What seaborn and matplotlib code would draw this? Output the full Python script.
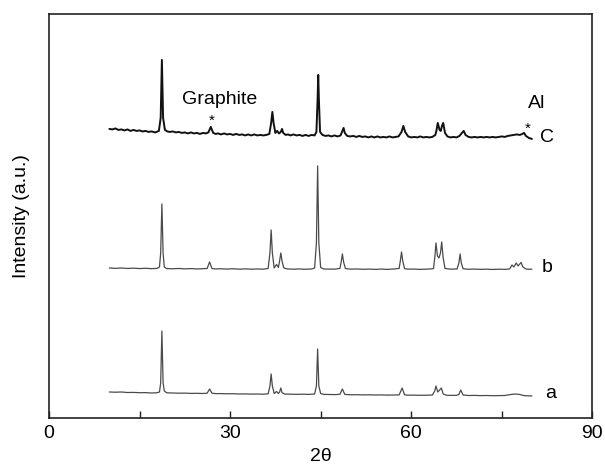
import matplotlib
matplotlib.use("Agg")
import matplotlib.pyplot as plt
import pandas as pd
import seaborn as sns

# ---- XRD patterns (2theta in degrees, intensity in arbitrary units) ----
two_theta_a = [10.0, 11.0, 12.0, 13.0, 14.0, 15.0, 16.0, 17.0, 17.8, 18.3, 18.5, 18.7, 18.9, 19.1,
               19.5, 20.5, 21.5, 22.5, 23.5, 24.5, 25.5, 26.2, 26.6, 27.0, 27.6, 28.5, 29.5, 30.5,
               31.5, 32.5, 33.5, 34.5, 35.5, 36.3, 36.6, 36.8, 37.0, 37.3, 37.7, 38.0, 38.2, 38.4,
               38.6, 39.0, 40.0, 41.0, 42.0, 43.0, 44.0, 44.3, 44.5, 44.7, 45.0, 45.5, 46.5, 47.5,
               48.2, 48.6, 49.0, 50.0, 51.0, 52.0, 53.0, 54.0, 55.0, 56.0, 57.0, 58.0, 58.5, 58.9,
               59.5, 60.5, 61.5, 62.5, 63.5, 63.9, 64.1, 64.4, 64.7, 65.0, 65.3, 65.8, 66.5, 67.5,
               67.9, 68.2, 68.6, 69.5, 70.5, 71.5, 72.5, 73.5, 74.5, 75.5, 76.5, 77.3, 78.0, 78.7,
               79.5, 80.0]
intensity_a = [26.0, 25.8, 26.0, 25.5, 25.6, 25.3, 25.4, 25.0, 25.2, 26.0, 35.0, 87.0, 35.0, 27.0,
               25.2, 25.0, 24.8, 24.9, 24.6, 24.7, 24.5, 24.8, 29.0, 24.8, 24.4, 24.4, 24.2, 24.3,
               24.0, 24.1, 23.9, 24.0, 23.8, 24.2, 32.0, 44.0, 32.0, 24.5, 26.5, 24.5, 26.0, 30.0,
               25.5, 24.0, 23.8, 23.7, 23.8, 23.6, 24.0, 32.0, 69.0, 32.0, 24.5, 23.6, 23.5, 23.4,
               23.8, 29.0, 23.6, 23.2, 23.3, 23.1, 23.2, 23.0, 23.1, 22.9, 23.0, 23.1, 30.0, 23.2,
               22.8, 22.9, 22.7, 22.8, 23.0, 27.0, 32.0, 26.0, 28.0, 30.0, 24.0, 22.8, 22.6, 22.7,
               23.5, 28.0, 23.0, 22.5, 22.6, 22.4, 22.5, 22.3, 22.4, 22.5, 23.5, 24.0, 23.5, 22.4,
               22.1, 22.0]

two_theta_b = [10.0, 11.0, 12.0, 13.0, 14.0, 15.0, 16.0, 17.0, 17.9, 18.3, 18.5, 18.7, 18.9, 19.1,
               19.5, 20.5, 21.5, 22.5, 23.5, 24.5, 25.5, 26.2, 26.6, 27.0, 27.6, 28.5, 29.5, 30.5,
               31.5, 32.5, 33.5, 34.5, 35.5, 36.3, 36.6, 36.8, 37.0, 37.3, 37.7, 38.0, 38.2, 38.4,
               38.6, 38.9, 39.5, 40.5, 41.5, 42.5, 43.5, 44.0, 44.3, 44.5, 44.7, 45.0, 45.5, 46.5,
               47.5, 48.2, 48.4, 48.6, 48.8, 49.1, 50.0, 51.0, 52.0, 53.0, 54.0, 55.0, 56.0, 57.0,
               58.0, 58.2, 58.4, 58.6, 58.9, 59.5, 60.5, 61.5, 62.5, 63.5, 63.7, 63.95, 64.1, 64.35,
               64.6, 64.85, 65.05, 65.3, 65.6, 66.5, 67.6, 67.9, 68.1, 68.3, 68.6, 69.5, 70.5, 71.5,
               72.5, 73.5, 74.5, 75.5, 76.3, 76.7, 77.0, 77.4, 77.7, 78.2, 78.5, 79.0, 79.5, 80.0]
intensity_b = [25.0, 24.6, 25.0, 24.5, 24.8, 24.4, 24.7, 24.3, 24.6, 26.0, 40.0, 89.0, 40.0, 26.0,
               24.4, 24.2, 24.5, 24.1, 24.4, 24.0, 24.3, 24.5, 31.0, 24.4, 24.0, 24.2, 23.9, 24.2,
               23.8, 24.1, 23.8, 24.0, 23.8, 24.5, 40.0, 63.0, 40.0, 25.0, 28.5, 25.5, 32.0, 40.0,
               32.0, 25.0, 24.0, 23.8, 24.0, 23.7, 24.0, 25.0, 50.0, 127.0, 50.0, 25.5, 24.0, 23.8,
               23.9, 24.6, 31.0, 39.0, 31.0, 24.4, 23.8, 24.0, 23.7, 23.9, 23.6, 23.9, 23.6, 23.9,
               24.5, 32.0, 41.0, 32.0, 24.3, 23.8, 23.9, 23.6, 23.8, 24.2, 24.5, 38.0, 50.0, 37.0,
               35.0, 40.0, 51.0, 35.0, 24.5, 23.8, 24.0, 30.0, 39.0, 30.0, 24.2, 23.7, 23.9, 23.6,
               23.8, 23.5, 23.8, 23.6, 24.0, 28.0, 26.0, 30.0, 27.0, 30.5, 26.0, 24.0, 23.7, 23.8]

two_theta_c = [10.0, 10.5, 11.0, 11.5, 12.0, 12.5, 13.0, 13.5, 14.0, 14.5, 15.0, 15.5, 16.0, 16.5,
               17.0, 17.6, 18.2, 18.5, 18.7, 18.9, 19.2, 19.6, 20.0, 20.5, 21.0, 21.5, 22.0, 22.5,
               23.0, 23.5, 24.0, 24.5, 25.0, 25.5, 26.0, 26.4, 26.8, 27.2, 27.6, 28.0, 28.5, 29.0,
               29.5, 30.0, 30.5, 31.0, 31.5, 32.0, 32.5, 33.0, 33.5, 34.0, 34.5, 35.0, 35.5, 36.0,
               36.5, 36.8, 37.0, 37.2, 37.5, 37.8, 38.1, 38.4, 38.6, 38.8, 39.2, 39.6, 40.0, 40.5,
               41.0, 41.5, 42.0, 42.5, 43.0, 43.5, 44.0, 44.3, 44.5, 44.6, 44.7, 44.9, 45.3, 45.8,
               46.3, 46.8, 47.3, 47.8, 48.3, 48.6, 48.8, 49.0, 49.4, 49.9, 50.4, 50.9, 51.4, 51.9,
               52.4, 52.9, 53.4, 53.9, 54.4, 54.9, 55.4, 55.9, 56.4, 56.9, 57.4, 57.9, 58.4, 58.7,
               59.0, 59.5, 60.0, 60.5, 61.0, 61.5, 62.0, 62.5, 63.0, 63.5, 64.0, 64.2, 64.4, 64.7,
               64.9, 65.1, 65.3, 65.6, 66.0, 66.5, 67.0, 67.5, 68.0, 68.4, 68.7, 69.0, 69.5, 70.0,
               70.5, 71.0, 71.5, 72.0, 72.5, 73.0, 73.5, 74.0, 74.5, 75.0, 75.5, 76.0, 76.5, 77.0,
               77.5, 78.0, 78.4, 78.7, 79.0, 79.5, 80.0]
intensity_c = [34.0, 33.5, 34.5, 33.0, 33.5, 32.5, 33.5, 32.0, 33.0, 32.0, 32.5, 31.5, 32.0, 31.0,
               31.5, 30.5, 32.0, 45.0, 103.0, 45.0, 33.0, 31.5, 31.0, 31.5, 30.5, 31.0, 30.0, 30.5,
               29.5, 30.5, 29.5, 30.0, 29.0, 30.0, 29.5, 30.5, 36.0, 30.0, 29.0, 29.5, 28.5, 29.5,
               28.5, 29.0, 28.0, 29.0, 28.0, 28.5, 27.5, 28.5, 27.5, 28.5, 27.5, 28.0, 27.5, 28.0,
               29.0, 40.0, 51.0, 40.0, 30.0, 32.0, 29.5, 31.0, 34.0, 30.0, 28.0, 28.5, 27.5, 28.5,
               27.5, 28.0, 27.0, 28.0, 27.0, 28.0, 27.5, 31.0, 65.0, 88.0, 65.0, 31.0, 28.0, 27.0,
               27.5, 26.5, 27.5, 26.5, 27.5, 32.0, 35.0, 30.0, 27.0, 26.5, 27.0, 26.0, 27.0, 26.0,
               26.5, 25.5, 26.5, 25.5, 26.5, 25.5, 26.0, 25.5, 26.5, 25.5, 26.0, 26.5, 31.0, 37.0,
               31.0, 26.5, 25.5, 26.0, 25.5, 26.5, 25.5, 26.0, 25.5, 26.0, 28.0, 33.0, 40.0, 33.0,
               32.0, 37.0, 40.0, 30.0, 26.5, 25.5, 26.0, 25.5, 27.0, 30.0, 32.0, 28.0, 26.0, 25.5,
               26.0, 25.5, 26.0, 25.5, 26.0, 25.5, 26.0, 25.5, 26.0, 26.5, 26.0, 27.0, 27.5, 28.0,
               28.5, 28.0, 29.0, 30.0, 27.0, 25.0, 24.0]

sample_names = ["a", "b", "C"]
stack_offsets = [0, 125, 255]

frames = []
for name, tt, inten, off in zip(sample_names,
                                [two_theta_a, two_theta_b, two_theta_c],
                                [intensity_a, intensity_b, intensity_c],
                                stack_offsets):
    frames.append(pd.DataFrame({"two_theta": tt,
                                "intensity": [v + off for v in inten],
                                "sample": name}))
data = pd.concat(frames, ignore_index=True)

sns.set_theme(style="ticks")
plt.rcParams["font.family"] = ["Liberation Sans", "DejaVu Sans"]
plt.rcParams["text.color"] = "black"
plt.rcParams["axes.labelcolor"] = "black"

fig = plt.figure(figsize=(6.05, 4.71), dpi=100)
ax = fig.add_axes([0.081, 0.1125, 0.898, 0.858])

line_styles = {"a": ("#4a4a4a", 0.9), "b": ("#4a4a4a", 0.9), "C": ("#111111", 1.4)}
for name in sample_names:
    color, lw = line_styles[name]
    sns.lineplot(data=data[data["sample"] == name], x="two_theta", y="intensity",
                 color=color, linewidth=lw, estimator=None, ax=ax, legend=False)

ax.set_xlim(0, 90)
ax.set_ylim(0, 404)
ax.set_xticks([0, 30, 60, 90])
ax.set_xticks([15, 45, 75], minor=True)
ax.set_yticks([])
ax.tick_params(axis="x", which="both", direction="in", length=5, width=1.0,
               labelsize=14, pad=5, colors="#222222")
ax.tick_params(axis="x", which="major", labelcolor="black")
for side in ["left", "right", "top", "bottom"]:
    ax.spines[side].set_linewidth(1.2)
    ax.spines[side].set_color("#222222")

ax.set_xlabel("2\u03b8", fontsize=14, labelpad=4)
ax.set_ylabel("Intensity (a.u.)", fontsize=14, labelpad=14)

# trace labels and phase markers
ax.text(28.2, 318, "Graphite", fontsize=14, ha="center", va="center")
ax.text(26.9, 297, "*", fontsize=11, ha="center", va="center")
ax.text(80.8, 314, "Al", fontsize=14, ha="center", va="center")
ax.text(79.3, 289, "*", fontsize=11, ha="center", va="center")
ax.text(82.5, 280, "C", fontsize=14, ha="center", va="center")
ax.text(82.6, 150, "b", fontsize=14, ha="center", va="center")
ax.text(83.1, 25, "a", fontsize=14, ha="center", va="center")

fig.savefig("out.png", dpi=100)
